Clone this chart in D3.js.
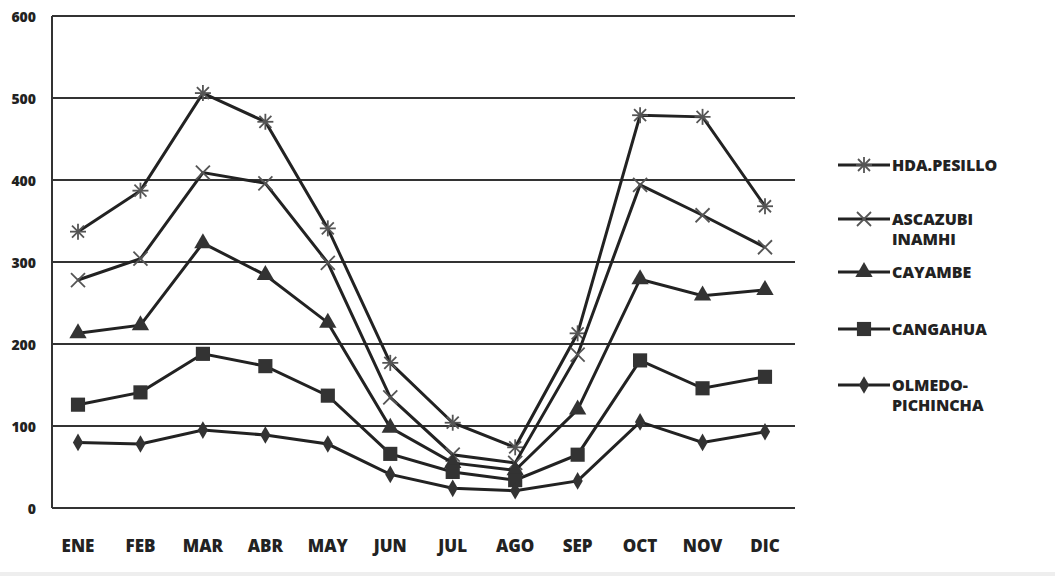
<!DOCTYPE html>
<html><head><meta charset="utf-8">
<script src="https://cdn.jsdelivr.net/npm/d3@7"></script>
<style>body{margin:0;background:#fff}text{font-family:"Open Sans","DejaVu Sans",sans-serif;font-weight:800;fill:#222}</style>
</head><body>
<script>
var months = ["ENE","FEB","MAR","ABR","MAY","JUN","JUL","AGO","SEP","OCT","NOV","DIC"];
var yTicks = [0,100,200,300,400,500,600];
var pesillo = [337,387,506,471,341,177,104,74,213,479,477,368];
var ascazubi = [278,304,409,396,299,135,65,55,187,394,357,318];
var cayambe = [213,223,323,284,226,98,55,46,120,279,259,266];
var cangahua = [126,141,188,173,137,66,44,34,65,180,146,160];
var olmedo = [80,78,95,89,78,41,24,21,33,105,80,93];
var series = [
  {name:["HDA.PESILLO"], v:pesillo, m:"star"},
  {name:["ASCAZUBI","INAMHI"], v:ascazubi, m:"x"},
  {name:["CAYAMBE"], v:cayambe, m:"tri"},
  {name:["CANGAHUA"], v:cangahua, m:"sq"},
  {name:["OLMEDO-","PICHINCHA"], v:olmedo, m:"dia"}
];

var svg = d3.select("body").append("svg").attr("width",1055).attr("height",576);
svg.append("rect").attr("x",0).attr("y",572).attr("width",1055).attr("height",4).attr("fill","#eee");
var x = d3.scalePoint().domain(months).range([78,765]);
var y = d3.scaleLinear().domain([0,600]).range([508,16]);
var L = 52, R = 795;

svg.selectAll("line.grid").data(yTicks).enter().append("line")
  .attr("x1",L).attr("x2",R).attr("y1",d=>y(d)).attr("y2",d=>y(d))
  .attr("stroke","#333").attr("stroke-width",2);
svg.append("line").attr("x1",L).attr("x2",L).attr("y1",y(600)).attr("y2",y(0)).attr("stroke","#333").attr("stroke-width",2);
svg.selectAll("text.yl").data(yTicks).enter().append("text")
  .attr("x",36).attr("y",d=>Math.max(y(d)+6,19)).attr("text-anchor","end").attr("font-size",14).text(d=>d);
svg.selectAll("text.xl").data(months).enter().append("text")
  .attr("x",d=>x(d)).attr("y",552).attr("text-anchor","middle").attr("font-size",17).text(d=>d);

function marker(g, type, cx, cy){
  if(type=="star"){
    [[-8,0,8,0],[0,-8,0,8],[-6,-6,6,6],[-6,6,6,-6]].forEach(function(s){
      g.append("line").attr("x1",cx+s[0]).attr("y1",cy+s[1]).attr("x2",cx+s[2]).attr("y2",cy+s[3]).attr("stroke","#555").attr("stroke-width",1.8);});
  } else if(type=="x"){
    [[-7,-7,7,7],[-7,7,7,-7]].forEach(function(s){
      g.append("line").attr("x1",cx+s[0]).attr("y1",cy+s[1]).attr("x2",cx+s[2]).attr("y2",cy+s[3]).attr("stroke","#555").attr("stroke-width",1.8);});
  } else {
    var sym = type=="tri"?d3.symbolTriangle:type=="sq"?d3.symbolSquare:d3.symbolDiamond;
    var size = type=="sq"?200:type=="tri"?130:90;
    g.append("path").attr("d",d3.symbol().type(sym).size(size)()).attr("transform","translate("+cx+","+cy+")").attr("fill","#333");
  }
}

var line = d3.line().x((d,i)=>x(months[i])).y(d=>y(d));
series.forEach(function(s){
  svg.append("path").attr("d",line(s.v)).attr("fill","none").attr("stroke","#222").attr("stroke-width",3);
  var g = svg.append("g");
  s.v.forEach(function(v,i){ marker(g, s.m, x(months[i]), y(v)); });
});

var ly = [165,219,272,329,385];
series.forEach(function(s,i){
  var g = svg.append("g");
  g.append("line").attr("x1",838).attr("x2",890).attr("y1",ly[i]).attr("y2",ly[i]).attr("stroke","#222").attr("stroke-width",3);
  marker(g, s.m, 864, ly[i]);
  s.name.forEach(function(t,j){
    g.append("text").attr("x",892).attr("y",ly[i]+6+j*20).attr("font-size",16).text(t);
  });
});
</script>
</body></html>
